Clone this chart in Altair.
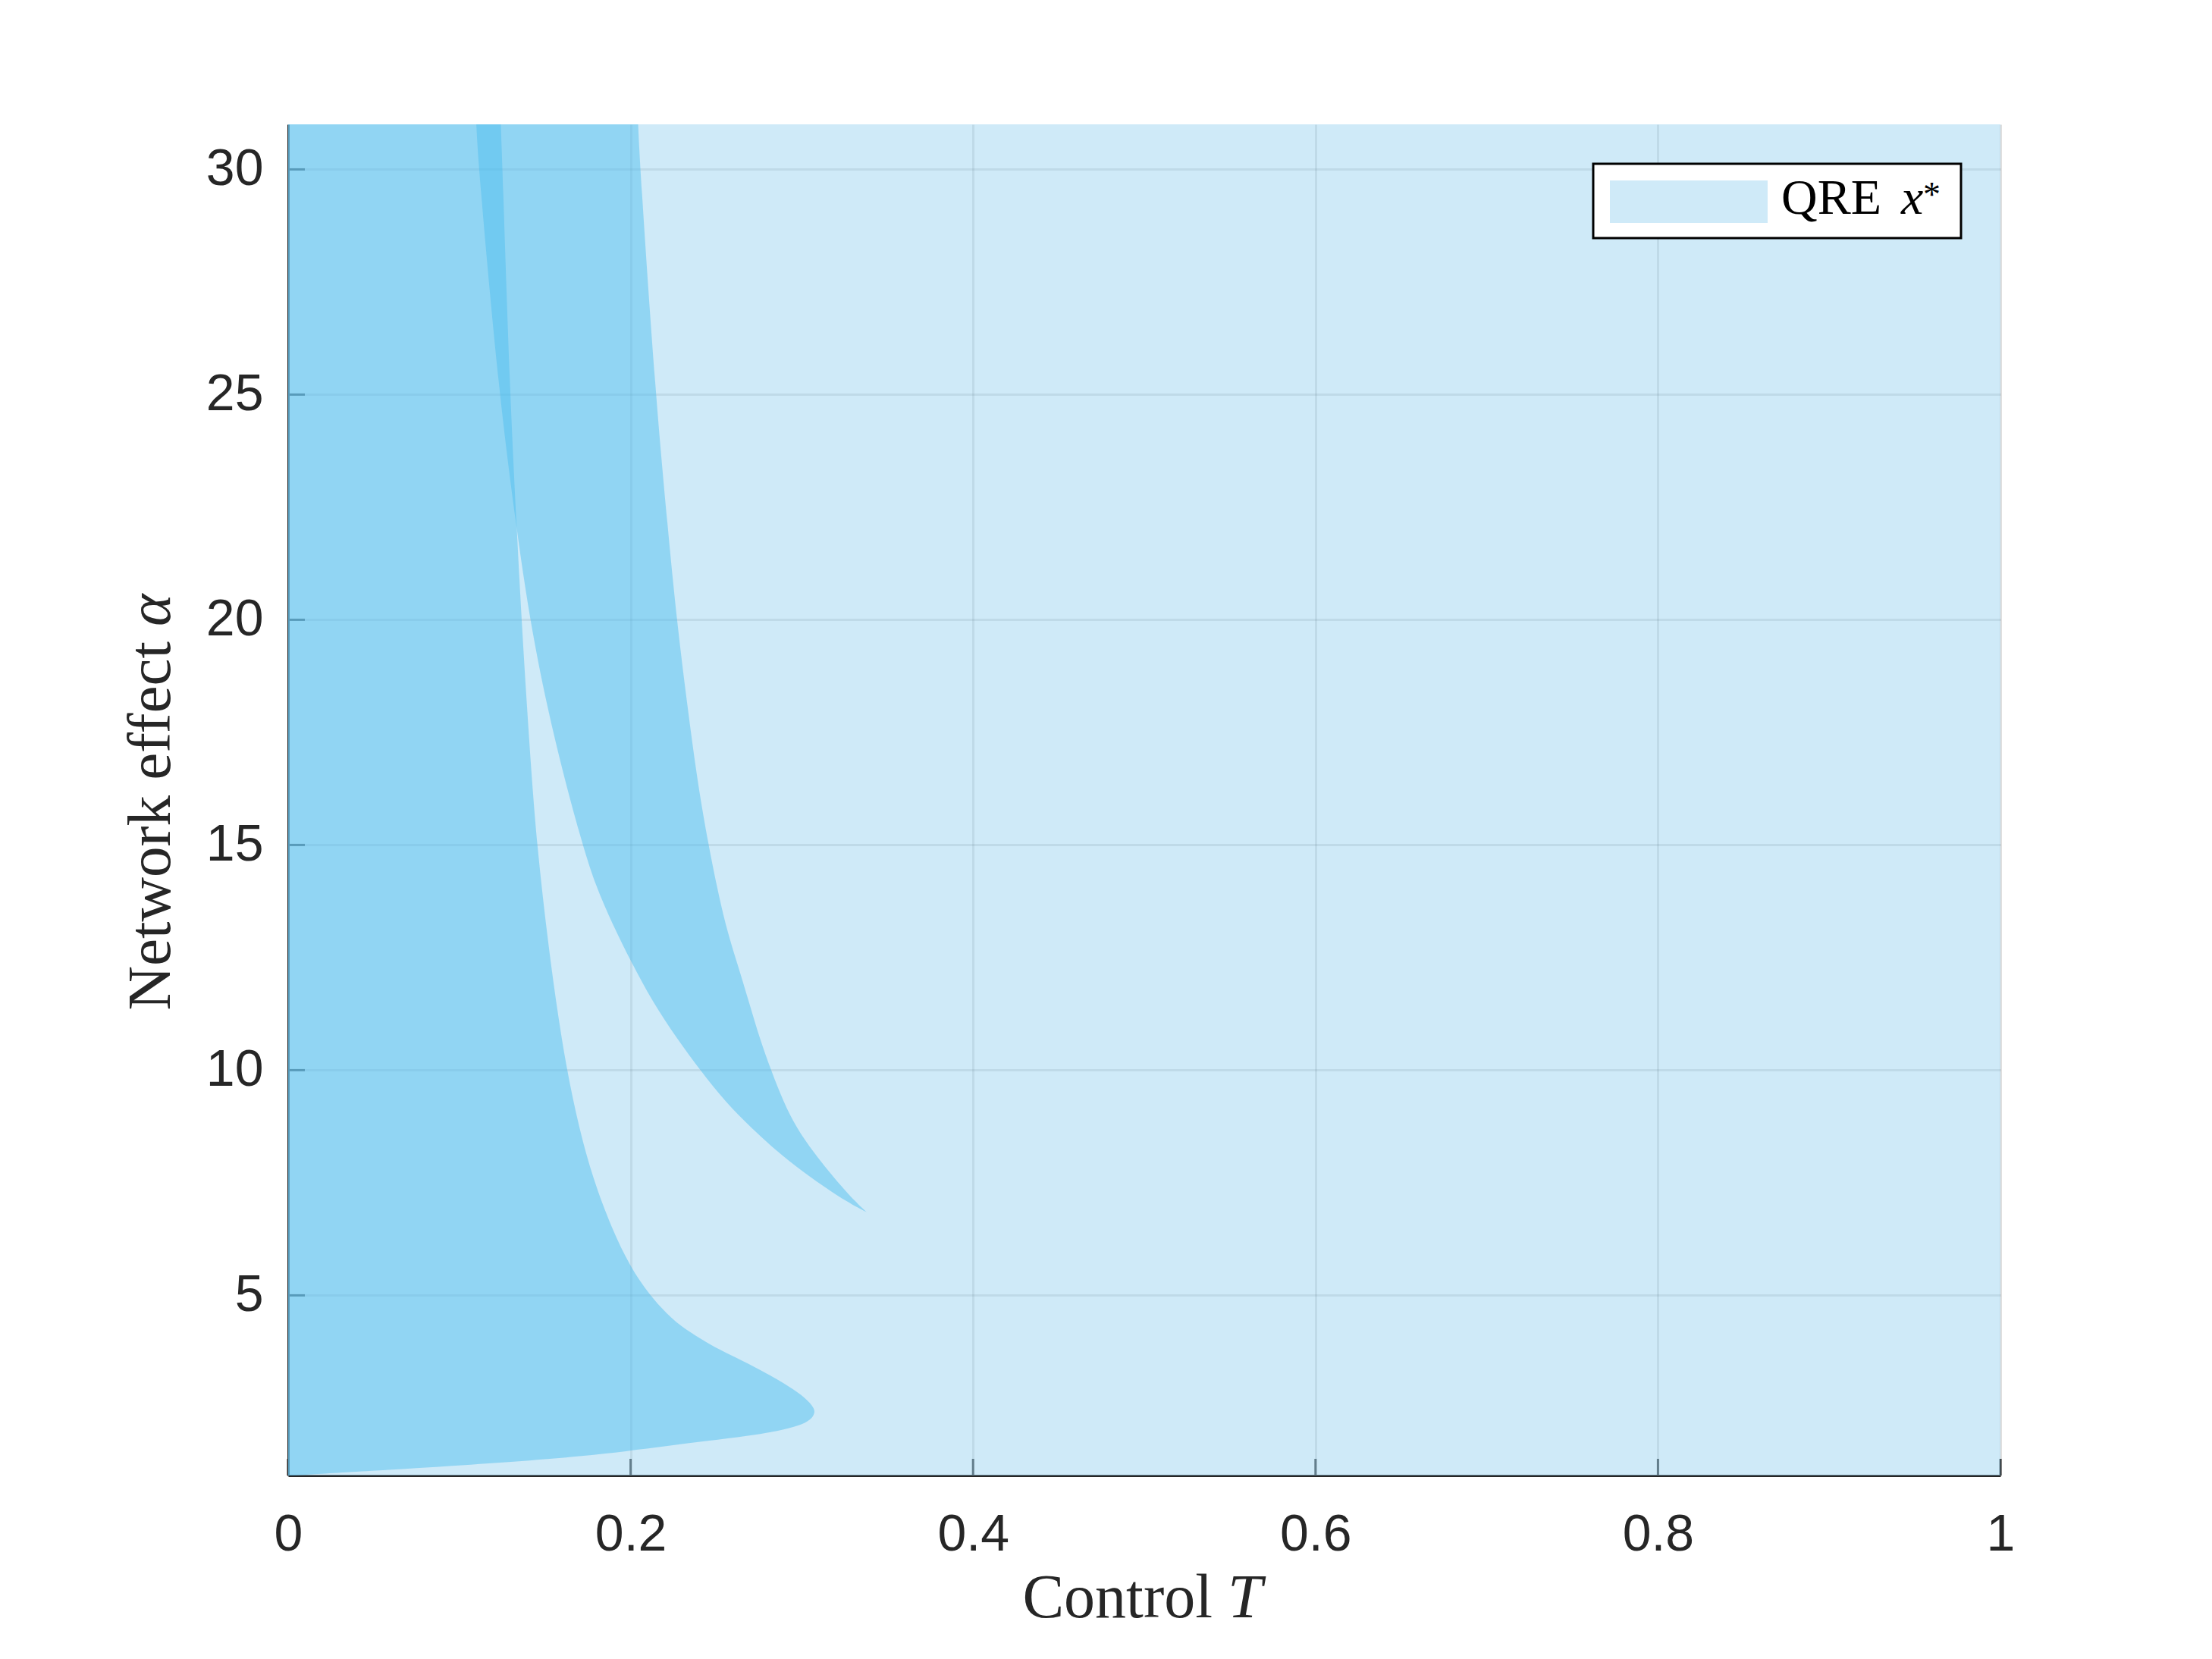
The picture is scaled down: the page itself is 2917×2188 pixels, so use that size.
import altair as alt
import pandas as pd

# ---- data ----
# left region boundary: for each alpha, T runs from 0 to a_T
a_alpha = [1.0, 1.1, 1.22, 1.32, 1.43, 1.54, 1.655, 1.77, 1.88, 1.99, 2.10, 2.24, 2.41, 2.55, 2.78,
           3.06, 3.34, 3.62, 3.90, 4.18, 4.46, 5.0, 5.64, 6.48, 7.6, 8.73, 10.0, 11.53, 13.22,
           15.0, 16.36, 18.04, 20.0, 21.97, 25.0, 30.0, 31.0]
a_T = [0.003, 0.048, 0.0974, 0.1373, 0.1713, 0.1978, 0.2215, 0.2450, 0.2687, 0.2864, 0.2982, 0.3056,
       0.3080, 0.3063, 0.3004, 0.2893, 0.2760, 0.2613, 0.2465, 0.2347, 0.2244, 0.2111, 0.1997, 0.1890,
       0.1779, 0.1698, 0.1627, 0.1563, 0.1505, 0.1454, 0.1425, 0.1395, 0.1363, 0.1336, 0.1295,
       0.1252, 0.1242]

# upper band: between b_left and b_right
b_alpha = [6.85, 7.04, 7.6, 8.16, 8.73, 9.29, 10.0, 10.69, 11.53, 12.43, 13.22, 14.11, 15.0, 16.36,
           18.04, 20.0, 21.97, 25.0, 30.0, 31.0]
b_left = [0.3378, 0.3277, 0.3056, 0.2864, 0.2702, 0.2554, 0.2406, 0.2273, 0.2126, 0.2000, 0.1897,
          0.1794, 0.1720, 0.1621, 0.1513, 0.1411, 0.1336, 0.1231, 0.1113, 0.1099]
b_right = [0.3378, 0.3322, 0.3189, 0.3071, 0.2967, 0.2893, 0.2820, 0.2755, 0.2690, 0.2618, 0.2554,
           0.2502, 0.2455, 0.2392, 0.2333, 0.2269, 0.2219, 0.2145, 0.2056, 0.2044]

# whole QRE domain
base_alpha = [1.0, 31.0]
base_lo = [0.0, 0.0]
base_hi = [1.0, 1.0]

x_ticks = [0, 0.2, 0.4, 0.6, 0.8, 1]
y_ticks = [5, 10, 15, 20, 25, 30]

# ---- layout ----
W, H = 2258, 1782
AXC = "#262626"
BLUE = "#4DBEEE"

x_scale = alt.Scale(domain=[0, 1], nice=False, zero=False)
y_scale = alt.Scale(domain=[1, 31], nice=False, zero=False)

x_axis = alt.Axis(values=x_ticks, format="~g", title=None, ticks=False, tickSize=0,
                  labelFont="Liberation Sans", labelFontSize=68, labelColor=AXC, labelPadding=44,
                  grid=True, gridColor=AXC, gridOpacity=0.15, gridWidth=3,
                  domainColor=AXC, domainWidth=3, labelOverlap=False, labelFlush=False)
y_axis = alt.Axis(values=y_ticks, format="d", title=None, ticks=False, tickSize=0,
                  labelFont="Liberation Sans", labelFontSize=68, labelColor=AXC, labelPadding=33,
                  grid=True, gridColor=AXC, gridOpacity=0.15, gridWidth=3,
                  domainColor=AXC, domainWidth=3, labelOverlap=False, labelFlush=False)


def X(f):
    return alt.X(f, type="quantitative", scale=x_scale, axis=x_axis)


def Y(f):
    return alt.Y(f, type="quantitative", scale=y_scale, axis=y_axis)


base_df = pd.DataFrame({"alpha": base_alpha, "lo": base_lo, "hi": base_hi})
a_df = pd.DataFrame({"alpha": a_alpha, "lo": [0.0] * len(a_alpha), "hi": a_T})
b_df = pd.DataFrame({"alpha": b_alpha, "lo": b_left, "hi": b_right})
xt_df = pd.DataFrame({"v": x_ticks})
yt_df = pd.DataFrame({"v": y_ticks})
one = pd.DataFrame({"k": [0]})

ytick_layer = alt.Chart(yt_df).mark_rule(color=AXC, strokeWidth=3).encode(
    y=Y("v"), x=alt.value(0), x2=alt.value(22))
xtick_layer = alt.Chart(xt_df).mark_rule(color=AXC, strokeWidth=3).encode(
    x=X("v"), y=alt.value(H), y2=alt.value(H - 22))

base_layer = alt.Chart(base_df).mark_area(orient="horizontal", color="#9FD5F1", opacity=0.5,
                                          interpolate="linear").encode(
    y=Y("alpha"), x=X("lo"), x2=alt.X2("hi"))
a_layer = alt.Chart(a_df).mark_area(orient="horizontal", color=BLUE, opacity=0.47,
                                    interpolate="basis").encode(
    y=Y("alpha"), x=X("lo"), x2=alt.X2("hi"))
b_layer = alt.Chart(b_df).mark_area(orient="horizontal", color=BLUE, opacity=0.47,
                                    interpolate="basis").encode(
    y=Y("alpha"), x=X("lo"), x2=alt.X2("hi"))

SERIF = "Liberation Serif"


def txt(text, x, y, size, italic=False, align="left", angle=0, color="#262626"):
    kw = dict(text=text, font=SERIF, fontSize=size, align=align, baseline="alphabetic",
              color=color, fontStyle="italic" if italic else "normal")
    if angle:
        kw["angle"] = angle
    return alt.Chart(one).mark_text(**kw).encode(x=alt.value(x), y=alt.value(y))


xt1 = txt("Control", 1219, H + 187, 82, align="right")
xt2 = txt("T", 1239, H + 187, 82, italic=True, align="left")
yt1 = txt("Network effect", -156, 682, 81, align="right", angle=270)
yt2 = txt("\u03b1", -156, 662, 81, italic=True, align="left", angle=270)

leg_box = alt.Chart(one).mark_rect(fill="white", stroke="black", strokeWidth=3).encode(
    x=alt.value(1721), x2=alt.value(2206), y=alt.value(52), y2=alt.value(150))
leg_sw = alt.Chart(one).mark_rect(fill="#9FD5F1", opacity=0.5).encode(
    x=alt.value(1743), x2=alt.value(1951), y=alt.value(74), y2=alt.value(130))
leg_t1 = txt("QRE", 1969, 118, 66, color="black")
leg_t2 = txt("x", 2127, 118, 66, italic=True, color="black")
leg_t3 = txt("*", 2156, 108, 46, color="black")

chart = alt.layer(
    ytick_layer, xtick_layer, base_layer, a_layer, b_layer,
    xt1, xt2, yt1, yt2, leg_box, leg_sw, leg_t1, leg_t2, leg_t3
).properties(
    width=W, height=H,
    padding={"left": 372, "top": 156, "right": 271, "bottom": 234},
    autosize=alt.AutoSizeParams(type="none"),
    background="white",
).configure_view(stroke=None)

chart.save("out.html", embed_options={"renderer": "svg", "actions": False})
